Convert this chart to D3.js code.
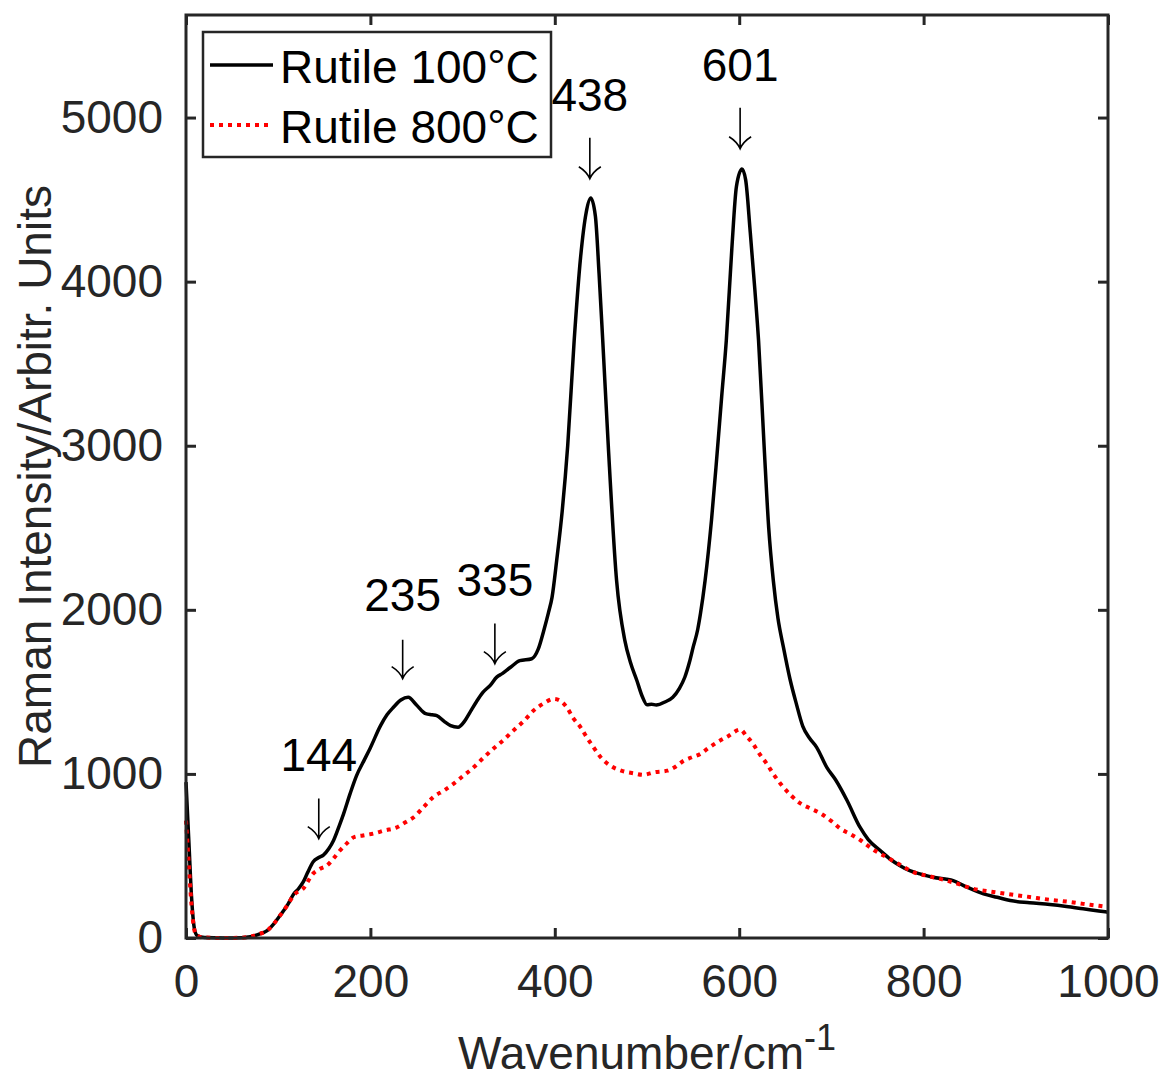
<!DOCTYPE html>
<html>
<head>
<meta charset="utf-8">
<script src="https://cdn.jsdelivr.net/npm/d3@7"></script>
<style>
  body { margin: 0; background: #fff; }
  text { font-family: "Liberation Sans", Arial, sans-serif; }
</style>
</head>
<body>
<svg id="chart" width="1165" height="1080"></svg>
<script>
// Rutile 100°C spectrum (wavenumber, intensity)
const wave100 = [0,3,6,9,12,20,40,60,70,80,88,95,102,110,117,122,127,132,138,144,149,155,160,166,171,178,185,193,200,211,218,225,233,241,250,260,267,272,280,287,295,302,308,315,322,330,337,343,352,362,375,382,388,393,397,402,408,414,421,428,434,439,444,448,452,458,467,476,482,489,495,500,505,510,520,528,535,541,546,550,555,558,563,570,576,581,586,592,597,603,607,612,617,621,627,632,637,642,648,655,662,669,676,684,695,705,717,731,740,753,764,774,785,796,810,832,845,865,880,894,915,937,955,973,990,1000];
const int100 = [950,600,250,60,15,3,0,2,8,25,45,85,137,200,270,300,340,400,465,490,505,545,594,680,758,880,990,1081,1160,1294,1360,1406,1450,1467,1420,1367,1360,1355,1320,1294,1284,1320,1375,1440,1497,1540,1590,1611,1650,1690,1702,1760,1873,1980,2076,2299,2600,3000,3640,4150,4420,4509,4400,4050,3640,3000,2179,1812,1680,1569,1470,1422,1425,1420,1440,1467,1520,1589,1680,1771,1880,1977,2179,2550,2950,3300,3640,4200,4580,4686,4620,4300,3950,3640,3000,2500,2179,1950,1771,1580,1427,1290,1220,1162,1040,960,838,675,600,533,480,442,410,391,370,350,315,269,248,228,215,204,192,178,165,157];

// Rutile 800°C spectrum
const wave800 = [0,3,6,9,12,20,40,60,70,80,88,95,102,110,117,127,138,145,153,160,167,175,182,192,203,215,229,238,247,258,268,280,290,300,312,322,333,345,355,366,377,388,399,406,413,420,428,435,442,450,460,472,485,496,508,522,530,540,548,558,566,576,588,601,608,615,622,630,637,645,656,666,677,688,700,710,720,732,745,760,775,789,805,825,840,854,870,890,915,937,955,973,990,1000];
const int800 = [716,450,200,50,12,3,0,2,8,25,45,85,137,200,262,301,393,420,442,485,533,580,614,625,636,655,675,705,736,800,858,900,939,985,1040,1095,1152,1210,1264,1320,1386,1430,1457,1445,1406,1340,1284,1220,1162,1100,1051,1020,1004,994,1010,1020,1040,1081,1100,1122,1155,1193,1230,1270,1230,1183,1122,1061,1000,939,870,822,790,760,712,665,635,594,540,492,445,401,378,350,325,300,285,269,250,233,222,208,196,188];

// peak labels: position, label baseline, arrow top, arrow tip (intensity units)
const peakPos = [144, 235, 335, 438, 601];
const peakTextY = [1020, 1991, 2086, 5041, 5224];
const arrowTop = [850, 1818, 1916, 4877, 5060];
const arrowTip = [606, 1581, 1672, 4627, 4810];

const xTicks = [0, 200, 400, 600, 800, 1000];
const yTicks = [0, 1000, 2000, 3000, 4000, 5000];
const legendLabels = ["Rutile 100\u00B0C", "Rutile 800\u00B0C"];

const axisColor = "#262626";
const fontSize = 46;

function drawChart(){
  let svg = d3.select("#chart");
  let margin = {top: 15, right: 57, bottom: 142, left: 186};
  let width = 1165 - margin.left - margin.right,
      height = 1080 - margin.top - margin.bottom;

  let x = d3.scaleLinear().domain([0, 1000]).range([0, width]);
  let y = d3.scaleLinear().domain([0, 5625]).range([height, 0]);

  let g = svg.append("g")
             .attr("transform", "translate(" + margin.left + "," + margin.top + ")");

  let line = d3.line()
    .curve(d3.curveMonotoneX)
    .x(d => x(d[0]))
    .y(d => y(d[1]));

  let data100 = d3.zip(wave100, int100);
  let data800 = d3.zip(wave800, int800);

  let plot = g.append("g");
  plot.append("path")
      .datum(data100)
      .attr("d", line)
      .attr("fill", "none")
      .attr("stroke", "#000")
      .attr("stroke-width", 3.5)
      .attr("stroke-linejoin", "round");
  plot.append("path")
      .datum(data800)
      .attr("d", line)
      .attr("fill", "none")
      .attr("stroke", "#ff0000")
      .attr("stroke-width", 4)
      .attr("stroke-dasharray", "4,5");

  // bottom / left axes with inward ticks
  let fmt = d3.format("d");
  let xAxis = g.append("g")
   .attr("transform", "translate(0," + height + ")")
   .call(d3.axisBottom(x).tickValues(xTicks).tickFormat(fmt).tickSizeInner(-10).tickSizeOuter(0).tickPadding(26));
  let yAxis = g.append("g")
   .call(d3.axisLeft(y).tickValues(yTicks).tickFormat(fmt).tickSizeInner(-10).tickSizeOuter(0).tickPadding(23));
  // top / right ticks, no labels
  let xTop = g.append("g")
   .call(d3.axisTop(x).tickValues(xTicks).tickSizeInner(-10).tickSizeOuter(0).tickFormat(""));
  let yRight = g.append("g")
   .attr("transform", "translate(" + width + ",0)")
   .call(d3.axisRight(y).tickValues(yTicks).tickSizeInner(-10).tickSizeOuter(0).tickFormat(""));

  [xAxis, yAxis, xTop, yRight].forEach(a => {
    a.select(".domain").remove();
    a.selectAll(".tick line").attr("stroke", axisColor).attr("stroke-width", 3);
    a.selectAll(".tick text")
     .attr("fill", axisColor)
     .style("font-size", fontSize + "px")
     .style("font-family", "'Liberation Sans', Arial, sans-serif");
  });
  xAxis.selectAll(".tick text").attr("dy", "0.71em");

  g.append("rect")
   .attr("x", 0).attr("y", 0)
   .attr("width", width).attr("height", height)
   .attr("fill", "none")
   .attr("stroke", axisColor)
   .attr("stroke-width", 3);

  // axis labels
  let xl = svg.append("text")
     .attr("x", margin.left + width / 2)
     .attr("y", 1069)
     .attr("text-anchor", "middle")
     .attr("fill", axisColor)
     .style("font-size", fontSize + "px");
  xl.append("tspan").text("Wavenumber/cm");
  xl.append("tspan").attr("dy", -19).style("font-size", "36px").text("-1");

  svg.append("text")
     .attr("transform", "translate(51," + (margin.top + height / 2) + ") rotate(-90)")
     .attr("text-anchor", "middle")
     .attr("fill", axisColor)
     .style("font-size", fontSize + "px")
     .text("Raman Intensity/Arbitr. Units");

  // peak annotations
  let ann = g.selectAll(".peak")
     .data(peakPos)
     .enter().append("g")
     .attr("class", "peak");
  ann.append("text")
     .attr("x", d => x(d))
     .attr("y", (d, i) => y(peakTextY[i]))
     .attr("text-anchor", "middle")
     .attr("fill", "#000")
     .style("font-size", fontSize + "px")
     .text(d => d);
  ann.append("path")
     .attr("d", (d, i) => {
       let px = x(d), top = y(arrowTop[i]), tip = y(arrowTip[i]);
       return "M" + px + "," + top + "L" + px + "," + tip +
              "M" + (px - 11) + "," + (tip - 12) + "Q" + (px - 3) + "," + (tip - 7) + " " + px + "," + tip +
              "Q" + (px + 3) + "," + (tip - 7) + " " + (px + 11) + "," + (tip - 12);
     })
     .attr("fill", "none")
     .attr("stroke", "#000")
     .attr("stroke-width", 1.6);

  // legend
  let legend = svg.append("g").attr("transform", "translate(203,32)");
  legend.append("rect")
        .attr("width", 348).attr("height", 125)
        .attr("fill", "#fff")
        .attr("stroke", axisColor)
        .attr("stroke-width", 2.5);
  let items = legend.selectAll(".legend")
        .data(legendLabels)
        .enter().append("g")
        .attr("class", "legend")
        .attr("transform", (d, i) => "translate(0," + (33 + i * 60) + ")");
  items.append("line")
       .attr("x1", 7).attr("x2", 70)
       .attr("y1", 0).attr("y2", 0)
       .attr("stroke", (d, i) => i == 0 ? "#000" : "#ff0000")
       .attr("stroke-width", (d, i) => i == 0 ? 3.5 : 4)
       .attr("stroke-dasharray", (d, i) => i == 0 ? null : "4,5");
  items.append("text")
       .attr("x", 77)
       .attr("y", 18)
       .attr("fill", "#000")
       .style("font-size", fontSize + "px")
       .text(d => d);
}

drawChart();
</script>
</body>
</html>
